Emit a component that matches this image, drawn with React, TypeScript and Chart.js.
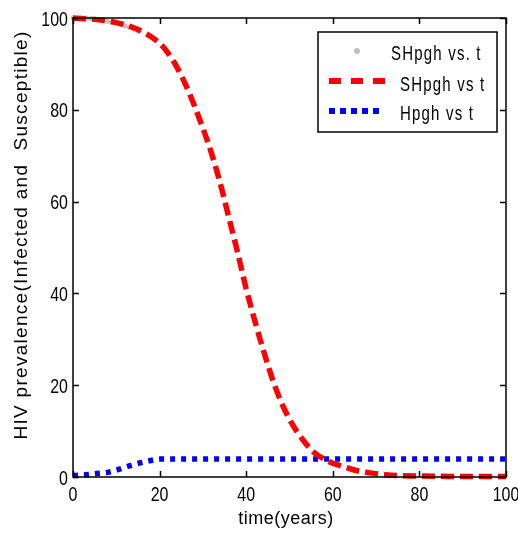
import React, { useEffect, useRef } from 'react';
import { Chart, registerables } from 'chart.js';

Chart.register(...registerables);

// ---- data ----
const xTicks = [0, 20, 40, 60, 80, 100];
const yTicks = [0, 20, 40, 60, 80, 100];

const grayTime = [0, 1, 2, 3, 4, 5, 6, 7, 8, 9, 10, 11, 12, 13, 14, 15];
const grayVals = [100, 100, 100, 100, 99.9, 99.8, 99.7, 99.5, 99.3, 99.1, 98.9, 98.6, 98.3, 98.0, 97.6, 97.1];

const redTime = [0, 5, 10, 15, 20, 22, 24, 26, 28, 30, 32, 34, 36, 38, 40, 42, 44, 46, 48, 50, 52, 54, 56, 58, 60, 62, 64, 66, 68, 70, 72, 75, 80, 85, 90, 95, 100];
const redVals = [100, 99.7, 99, 97.5, 94.5, 92.3, 89.3, 85.5, 81, 76, 70.5, 64, 56.5, 49, 41, 34, 27.5, 21.5, 16.5, 12.6, 9.5, 7, 5.1, 3.9, 3, 2.4, 1.8, 1.3, 1, 0.7, 0.5, 0.3, 0.2, 0.15, 0.1, 0.1, 0.1];

const blueTime = [0, 3, 6, 8, 10, 12, 14, 16, 18, 20, 30, 40, 50, 60, 70, 80, 90, 100];
const blueVals = [0.3, 0.5, 0.8, 1.0, 1.5, 2.1, 2.7, 3.2, 3.6, 3.9, 3.9, 3.9, 3.9, 3.9, 3.9, 3.9, 3.9, 3.9];

const legendLabels = ['SHpgh vs. t', 'SHpgh vs t', 'Hpgh vs t'];
const xTitle = 'time(years)';
const yTitle = 'HIV prevalence(Infected and  Susceptible)';

const SANS = '"Liberation Sans", Arial, sans-serif';

const toPts = (t: number[], v: number[]) => t.map((x, i) => ({ x, y: v[i] }));

function squeezedText(ctx: any, text: string, x: number, y: number, sx: number, align: CanvasTextAlign) {
  ctx.save();
  ctx.translate(x, y);
  ctx.scale(sx, 1);
  ctx.textAlign = align;
  ctx.fillText(text, 0, 0);
  ctx.restore();
}

const framePlugin = {
  id: 'framePlugin',
  afterDraw(chart: any) {
    const { ctx, chartArea: a, scales } = chart;
    const xs = scales.x;
    const ys = scales.y;
    ctx.save();
    // frame
    ctx.strokeStyle = '#000';
    ctx.lineWidth = 1.5;
    ctx.strokeRect(a.left, a.top, a.right - a.left, a.bottom - a.top);
    // inward ticks
    const tl = 6;
    ctx.beginPath();
    xTicks.forEach((v) => {
      const px = Math.round(xs.getPixelForValue(v)) + 0.5;
      ctx.moveTo(px, a.bottom);
      ctx.lineTo(px, a.bottom - tl);
      ctx.moveTo(px, a.top);
      ctx.lineTo(px, a.top + tl);
    });
    yTicks.forEach((v) => {
      const py = Math.round(ys.getPixelForValue(v)) + 0.5;
      ctx.moveTo(a.left, py);
      ctx.lineTo(a.left + tl, py);
      ctx.moveTo(a.right, py);
      ctx.lineTo(a.right - tl, py);
    });
    ctx.stroke();

    // tick labels (positions from the chart scales)
    ctx.fillStyle = '#000';
    ctx.font = '21px ' + SANS;
    ctx.textBaseline = 'alphabetic';
    xTicks.forEach((v) => {
      squeezedText(ctx, String(v), xs.getPixelForValue(v), a.bottom + 24, 0.76, 'center');
    });
    yTicks.forEach((v) => {
      squeezedText(ctx, String(v), a.left - 5, ys.getPixelForValue(v) + 7.5, 0.76, 'right');
    });

    // legend
    const lx = 318, ly = 32, lw = 179, lh = 100;
    ctx.fillStyle = '#fff';
    ctx.fillRect(lx, ly, lw, lh);
    ctx.strokeStyle = '#000';
    ctx.lineWidth = 1.5;
    ctx.strokeRect(lx, ly, lw, lh);

    // row 1: gray dot
    ctx.fillStyle = '#c0c0c0';
    ctx.beginPath();
    ctx.arc(357, 51, 3, 0, Math.PI * 2);
    ctx.fill();
    // row 2: red dashes
    ctx.strokeStyle = '#ff0000';
    ctx.lineWidth = 6;
    ctx.setLineDash([12, 10]);
    ctx.beginPath();
    ctx.moveTo(329, 81);
    ctx.lineTo(385, 81);
    ctx.stroke();
    // row 3: blue dots
    ctx.strokeStyle = '#0000ff';
    ctx.setLineDash([6, 5]);
    ctx.beginPath();
    ctx.moveTo(329, 111);
    ctx.lineTo(382, 111);
    ctx.stroke();
    ctx.setLineDash([]);

    ctx.fillStyle = '#000';
    ctx.font = '20px ' + SANS;
    ctx.textBaseline = 'alphabetic';
    (ctx as any).letterSpacing = '1.6px';
    squeezedText(ctx, legendLabels[0], 391, 60, 0.75, 'left');
    squeezedText(ctx, legendLabels[1], 400, 91, 0.75, 'left');
    squeezedText(ctx, legendLabels[2], 400, 120, 0.75, 'left');

    // axis titles
    ctx.font = '18px ' + SANS;
    (ctx as any).letterSpacing = '0.5px';
    ctx.textAlign = 'center';
    ctx.textBaseline = 'alphabetic';
    ctx.fillText(xTitle, 286, 524);

    ctx.save();
    ctx.font = '19px ' + SANS;
    (ctx as any).letterSpacing = '1.3px';
    ctx.translate(27, 235);
    ctx.rotate(-Math.PI / 2);
    ctx.textAlign = 'center';
    ctx.fillText(yTitle, 0, 0);
    ctx.restore();
    (ctx as any).letterSpacing = '0px';

    ctx.restore();
  },
};

export default function App() {
  const ref = useRef<HTMLCanvasElement | null>(null);

  useEffect(() => {
    document.body.style.margin = '0';
    const canvas = ref.current;
    if (!canvas) return;
    const chart = new Chart(canvas, {
      type: 'line',
      data: {
        datasets: [
          {
            label: legendLabels[1],
            data: toPts(redTime, redVals),
            borderColor: '#ff0000',
            borderWidth: 5.5,
            borderDash: [13, 6],
            pointRadius: 0,
            cubicInterpolationMode: 'monotone',
            fill: false,
            order: 0,
            clip: 4,
          } as any,
          {
            label: legendLabels[2],
            data: toPts(blueTime, blueVals),
            borderColor: '#0000ff',
            borderWidth: 5.5,
            borderDash: [5, 6],
            pointRadius: 0,
            cubicInterpolationMode: 'monotone',
            fill: false,
            order: 1,
            clip: 4,
          } as any,
          {
            label: legendLabels[0],
            data: toPts(grayTime, grayVals),
            showLine: false,
            borderColor: '#c0c0c0',
            backgroundColor: '#c0c0c0',
            pointRadius: 2.5,
            pointBorderWidth: 0,
            order: 2,
            clip: 4,
          } as any,
        ],
      },
      options: {
        responsive: false,
        animation: false,
        events: [],
        layout: { autoPadding: false, padding: { left: 0, top: 18, right: 12, bottom: 0 } },
        plugins: { legend: { display: false }, tooltip: { enabled: false } },
        scales: {
          x: {
            type: 'linear',
            min: 0,
            max: 100,
            grid: { display: false, drawTicks: false },
            border: { display: false },
            ticks: { stepSize: 20, display: false },
            afterFit: (s: any) => { s.height = 58; },
          },
          y: {
            type: 'linear',
            min: 0,
            max: 100,
            grid: { display: false, drawTicks: false },
            border: { display: false },
            ticks: { stepSize: 20, display: false },
            afterFit: (s: any) => { s.width = 73; },
          },
        },
      } as any,
      plugins: [framePlugin],
    });
    return () => chart.destroy();
  }, []);

  return (
    <div style={{ width: 518, height: 535 }}>
      <canvas ref={ref} width={518} height={535} />
    </div>
  );
}
